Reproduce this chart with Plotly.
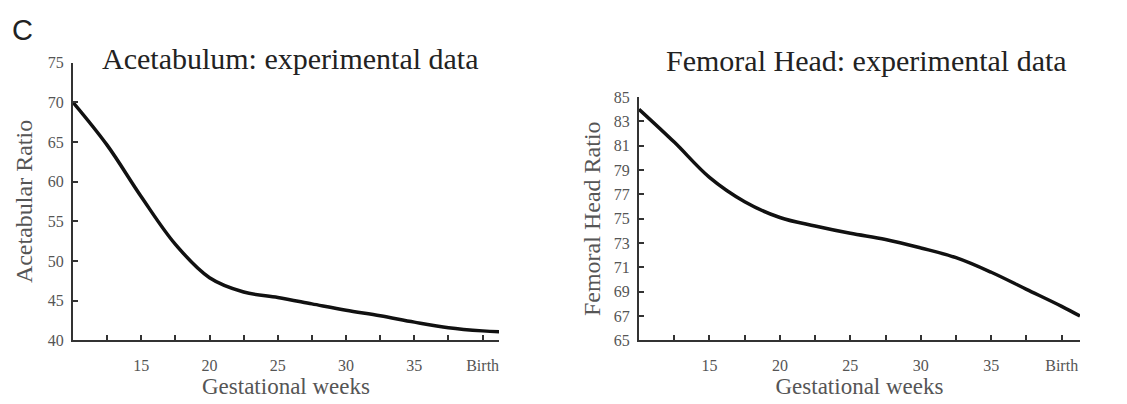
import plotly.graph_objects as go

weeks = [10, 12.5, 15, 17.5, 20, 22.5, 25, 27.5, 30, 32.5, 35, 37.5, 40, 41.2]
acetabular = [70.0, 64.6, 58.1, 52.1, 47.9, 46.1, 45.4, 44.6, 43.8, 43.1, 42.3, 41.6, 41.2, 41.1]
weeks_fh = [10, 12.5, 15, 17.5, 20, 22.5, 25, 27.5, 30, 32.5, 35, 37.5, 40, 41.3]
femoral = [84.0, 81.3, 78.4, 76.4, 75.1, 74.4, 73.8, 73.3, 72.6, 71.8, 70.6, 69.2, 67.8, 67.0]

xtick_vals = [12.5, 15, 17.5, 20, 22.5, 25, 27.5, 30, 32.5, 35, 37.5, 40]
xtick_text = ["", "15", "", "20", "", "25", "", "30", "", "35", "", "Birth"]
ac_yticks = [40, 45, 50, 55, 60, 65, 70, 75]
fh_yticks = [65, 67, 69, 71, 73, 75, 77, 79, 81, 83, 85]

W, H = 1127, 404
serif = "Liberation Serif, Times New Roman, serif"
gray = "#555555"

fig = go.Figure()
fig.add_trace(go.Scatter(x=weeks, y=acetabular, mode="lines",
                         line=dict(color="#111111", width=3.5, shape="spline"),
                         xaxis="x", yaxis="y", showlegend=False))
fig.add_trace(go.Scatter(x=weeks_fh, y=femoral, mode="lines",
                         line=dict(color="#111111", width=3.5, shape="spline"),
                         xaxis="x2", yaxis="y2", showlegend=False))

axis_common = dict(showgrid=False, zeroline=False, showline=True, linecolor="#333333",
                   linewidth=2, ticks="inside", ticklen=5, tickcolor="#333333", tickwidth=1.5,
                   tickfont=dict(family=serif, size=16, color=gray))

xtitle_font = dict(family=serif, size=23, color=gray)
ytitle_font = dict(family=serif, size=24, color=gray)

fig.update_layout(
    width=W, height=H, margin=dict(l=0, r=0, t=0, b=0),
    paper_bgcolor="white", plot_bgcolor="white",
    xaxis=dict(domain=[73/W, 499/W], range=[10, 41.2], tickvals=xtick_vals, ticktext=xtick_text,
               anchor="y", ticklabelstandoff=9,
               title=dict(text="Gestational weeks", standoff=0, font=xtitle_font), **axis_common),
    yaxis=dict(domain=[(H-347)/H, (H-57)/H], range=[40, 75], tickvals=ac_yticks,
               anchor="x", ticklabelstandoff=4,
               title=dict(text="Acetabular Ratio", standoff=8, font=ytitle_font), **axis_common),
    xaxis2=dict(domain=[639/W, 1080/W], range=[10, 41.3], tickvals=xtick_vals, ticktext=xtick_text,
                anchor="y2", ticklabelstandoff=9,
                title=dict(text="Gestational weeks", standoff=0, font=xtitle_font), **axis_common),
    yaxis2=dict(domain=[(H-347)/H, (H-93)/H], range=[65, 85], tickvals=fh_yticks,
                anchor="x2", ticklabelstandoff=4,
                title=dict(text="Femoral Head Ratio", standoff=6, font=ytitle_font), **axis_common),
    annotations=[
        dict(text="C", x=10/W, y=1-23/H, xref="paper", yref="paper", xanchor="left", yanchor="middle",
             showarrow=False, font=dict(family="Liberation Sans, Arial, sans-serif", size=29, color="#222222")),
        dict(text="Acetabulum: experimental data", x=290/W, y=1-53/H, xref="paper", yref="paper",
             xanchor="center", yanchor="middle", showarrow=False,
             font=dict(family=serif, size=30, color="#222222")),
        dict(text="Femoral Head: experimental data", x=866/W, y=1-55/H, xref="paper", yref="paper",
             xanchor="center", yanchor="middle", showarrow=False,
             font=dict(family=serif, size=30, color="#222222")),
    ],
)

fig.write_html("out.html")
